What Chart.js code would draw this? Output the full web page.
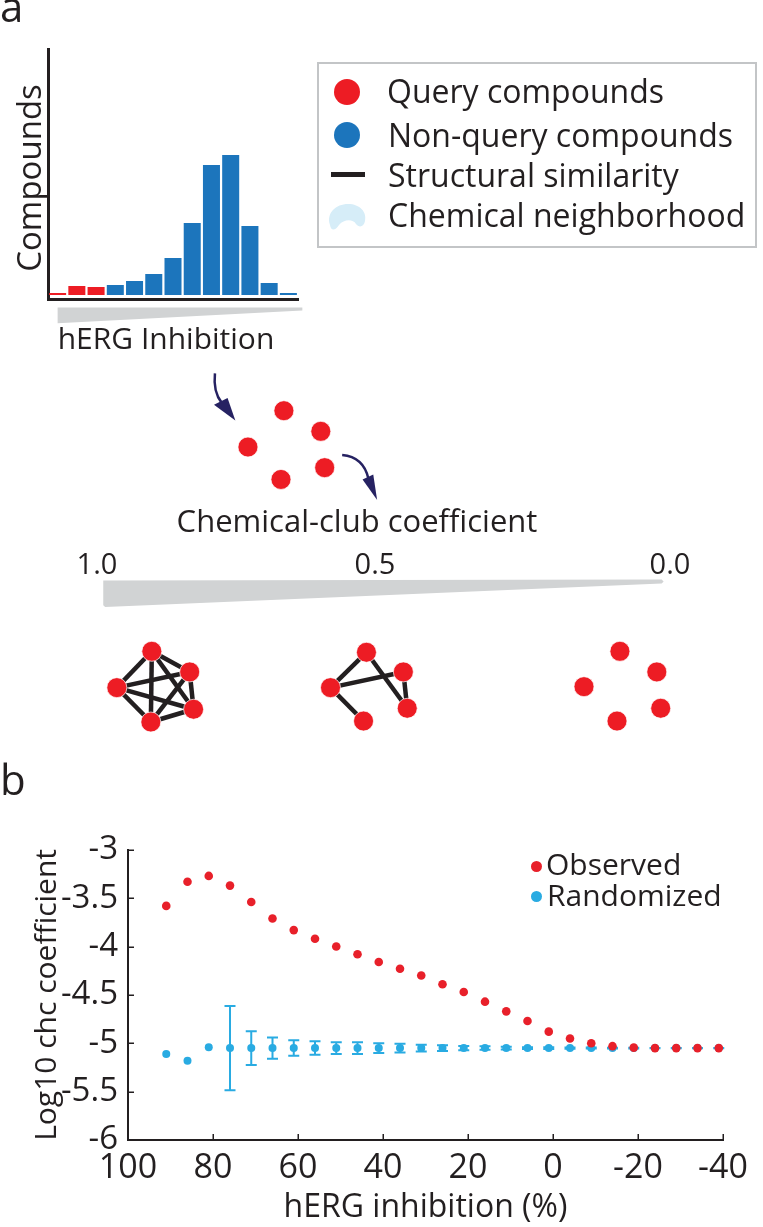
<!DOCTYPE html>
<html>
<head>
<meta charset="utf-8">
<script src="https://cdn.jsdelivr.net/npm/chart.js@4.4.0/dist/chart.umd.min.js"></script>
<style>
  body { margin: 0; background: #fff; }
  #page { position: relative; width: 763px; height: 1227px; overflow: hidden; font-family: "Open Sans", sans-serif; color: #231f20; }
  canvas { position: absolute; }
  .t { position: absolute; line-height: 1; white-space: nowrap; }
  .c { transform: translateX(-50%); }
  .dot { position: absolute; border-radius: 50%; }
</style>
</head>
<body>
<div id="page">
  <canvas id="diagram" style="left:0;top:0" width="763" height="1227"></canvas>
  <canvas id="hist" style="left:0;top:40px" width="310" height="270"></canvas>
  <canvas id="chc" style="left:0;top:820px" width="763" height="407"></canvas>

  <div class="t" style="left:0;top:-15px;font-size:42px">a</div>
  <div class="t" style="left:0;top:758px;font-size:42px">b</div>

  <!-- panel a: histogram labels -->
  <div class="t" style="left:28px;top:178px;font-size:33px;transform:translate(-50%,-50%) rotate(-90deg)">Compounds</div>
  <div class="t c" style="left:166px;top:323px;font-size:30px">hERG Inhibition</div>

  <!-- panel a: legend box -->
  <div style="position:absolute;left:317px;top:62px;width:436px;height:182px;border:2.5px solid #c3c5c7"></div>
  <div class="dot" style="left:334px;top:79px;width:26px;height:26px;background:#ed1c24"></div>
  <div class="dot" style="left:334px;top:122px;width:26px;height:26px;background:#1c75bc"></div>
  <div style="position:absolute;left:331px;top:172px;width:34px;height:5px;background:#231f20"></div>
  <svg style="position:absolute;left:326px;top:201px" width="42" height="32" viewBox="0 0 42 32">
    <path d="M4,24 C0,12 10,3 22,3 C34,3 41,11 39,20 C38,26 33,27 30,23 C27,18 18,18 13,24 C9,30 5,30 4,24 Z" fill="#d6edf8"/>
  </svg>
  <div class="t" style="left:387px;top:75px;font-size:32px">Query compounds</div>
  <div class="t" style="left:388px;top:119px;font-size:32px">Non-query compounds</div>
  <div class="t" style="left:388px;top:159px;font-size:32px">Structural similarity</div>
  <div class="t" style="left:388px;top:199px;font-size:32px">Chemical neighborhood</div>

  <!-- panel a: coefficient scale -->
  <div class="t c" style="left:357px;top:505px;font-size:31px">Chemical-club coefficient</div>
  <div id="coefLabels"></div>

  <!-- panel b: legend -->
  <div class="dot" style="left:531px;top:861px;width:11px;height:11px;background:#e8202a"></div>
  <div class="dot" style="left:531px;top:891px;width:11px;height:11px;background:#29abe2"></div>
  <div class="t" style="left:546px;top:849px;font-size:30px">Observed</div>
  <div class="t" style="left:547px;top:880px;font-size:30px">Randomized</div>
</div>

<script>
// ---- panel a: histogram of hERG inhibition (13 bins, first 3 are query bins)
const histBins = ['1', '2', '3', '4', '5', '6', '7', '8', '9', '10', '11', '12', '13'];
const histCounts = [2, 9, 8, 10, 14, 21, 37, 72, 130, 140, 69, 12, 2];
const queryBinCount = 3;

// ---- panel a: compound layouts (figure units)
const seedX = [281, 319, 244, 323, 278];
const seedY = [407, 428, 444, 465, 477];
const club1X = [145, 184, 109, 188, 144];
const club1Y = [652, 673, 689, 711, 724];
const club2X = [366, 404, 329, 408, 363];
const club2Y = [653, 673, 689, 710, 723];
const club3X = [627, 665, 590, 669, 624];
const club3Y = [652, 673, 688, 710, 723];
const club1Edges = [[0, 1], [0, 2], [0, 3], [0, 4], [1, 2], [1, 3], [1, 4], [2, 3], [2, 4], [3, 4]];
const club2Edges = [[0, 2], [0, 3], [2, 1], [1, 3], [2, 4]];
const coefLabels = ['1.0', '0.5', '0.0'];

// ---- panel b: chc coefficient vs hERG inhibition
const inhibition = [91, 86, 81, 76, 71, 66, 61, 56, 51, 46, 41, 36, 31, 26, 21, 16, 11, 6, 1, -4, -9, -14, -19, -24, -29, -34, -39];
const observed = [-3.58, -3.33, -3.27, -3.37, -3.54, -3.71, -3.83, -3.92, -4.0, -4.08, -4.16, -4.23, -4.3, -4.39, -4.47, -4.57, -4.67, -4.77, -4.88, -4.95, -5.0, -5.03, -5.045, -5.05, -5.05, -5.05, -5.05];
const randomized = [-5.11, -5.18, -5.04, -5.05, -5.05, -5.05, -5.05, -5.05, -5.05, -5.05, -5.05, -5.05, -5.05, -5.05, -5.05, -5.05, -5.05, -5.05, -5.05, -5.05, -5.05, -5.05, -5.05, -5.05, -5.05, -5.05, -5.05];
const randomizedErr = [null, null, null, 0.435, 0.175, 0.11, 0.08, 0.07, 0.06, 0.06, 0.05, 0.045, 0.035, 0.03, 0.022, 0.018, 0.014, 0.01, 0.008, 0.006, 0.005, 0.004, 0.003, 0.002, 0.002, 0.002, 0.002];
const xTicks = [100, 80, 60, 40, 20, 0, -20, -40];
const yTicks = [-3, -3.5, -4, -4.5, -5, -5.5, -6];

const RED = '#ed1c24';
const BLUE = '#1c75bc';
const INK = '#231f20';
const NAVY = '#262262';

Chart.defaults.font.family = "'Open Sans', sans-serif";
Chart.defaults.color = INK;

// coefficient tick labels along the grey wedge
const coefPos = [97, 375, 670];
coefLabels.forEach((s, i) => {
  const d = document.createElement('div');
  d.className = 't c';
  d.style.left = coefPos[i] + 'px';
  d.style.top = '548px';
  d.style.fontSize = '29px';
  d.textContent = s;
  document.getElementById('coefLabels').appendChild(d);
});

// ---------- histogram
new Chart(document.getElementById('hist'), {
  type: 'bar',
  data: {
    labels: histBins,
    datasets: [{
      data: histCounts,
      backgroundColor: histCounts.map((v, i) => i < queryBinCount ? RED : BLUE),
      borderWidth: 0,
      categoryPercentage: 1,
      barPercentage: 0.885
    }]
  },
  options: {
    responsive: false,
    animation: false,
    events: [],
    layout: { padding: { left: 48, top: 9, right: 12, bottom: 11 } },
    plugins: { legend: { display: false }, tooltip: { enabled: false } },
    scales: {
      x: { grid: { display: false }, ticks: { display: false }, border: { color: INK, width: 3 }, afterFit: s => { s.height = 0; } },
      y: { min: -4, max: 246, grid: { display: false }, ticks: { display: false }, border: { color: INK, width: 3 }, afterFit: s => { s.width = 0; } }
    }
  }
});

// ---------- diagram (wedges, arrows, compound clubs)
const nodeSet = (xs, ys) => ({
  data: xs.map((x, i) => ({ x: x, y: ys[i] })),
  pointRadius: 10,
  pointBackgroundColor: RED,
  pointBorderColor: 'rgba(255,255,255,0.7)',
  pointBorderWidth: 1,
  order: 1
});
const edgeSets = (xs, ys, edges) => edges.map(e => ({
  data: [{ x: xs[e[0]], y: ys[e[0]] }, { x: xs[e[1]], y: ys[e[1]] }],
  showLine: true,
  borderColor: INK,
  borderWidth: 4.5,
  pointRadius: 0,
  order: 2
}));

const sketchPlugin = {
  id: 'sketch',
  beforeDatasetsDraw(chart) {
    const ctx = chart.ctx, X = v => chart.scales.x.getPixelForValue(v), Y = v => chart.scales.y.getPixelForValue(v);
    const poly = pts => {
      ctx.beginPath();
      pts.forEach((p, i) => i ? ctx.lineTo(X(p[0]), Y(p[1])) : ctx.moveTo(X(p[0]), Y(p[1])));
      ctx.closePath();
      ctx.fill();
    };
    ctx.save();
    ctx.fillStyle = '#d1d3d4';
    poly([[48, 302], [300, 302], [300, 305], [48, 318]]);
    poly([[95, 580], [670, 579], [672, 581], [670, 583], [97, 607], [95, 605]]);
    ctx.restore();
  },
  afterDatasetsDraw(chart) {
    const ctx = chart.ctx, X = v => chart.scales.x.getPixelForValue(v), Y = v => chart.scales.y.getPixelForValue(v);
    const arrow = (p0, c, p1, head) => {
      ctx.beginPath();
      ctx.moveTo(X(p0[0]), Y(p0[1]));
      ctx.quadraticCurveTo(X(c[0]), Y(c[1]), X(p1[0]), Y(p1[1]));
      ctx.stroke();
      ctx.beginPath();
      head.forEach((p, i) => i ? ctx.lineTo(X(p[0]), Y(p[1])) : ctx.moveTo(X(p[0]), Y(p[1])));
      ctx.closePath();
      ctx.fill();
    };
    ctx.save();
    ctx.strokeStyle = NAVY;
    ctx.fillStyle = NAVY;
    ctx.lineWidth = 2.5;
    arrow([210, 369], [208, 388], [217, 399], [[231, 417], [209, 401], [223, 394]]);
    arrow([341, 452], [363, 454], [368, 476], [[377, 498], [362, 477], [373, 472]]);
    ctx.restore();
  }
};

new Chart(document.getElementById('diagram'), {
  type: 'scatter',
  data: {
    datasets: [
      ...edgeSets(club1X, club1Y, club1Edges),
      ...edgeSets(club2X, club2Y, club2Edges),
      nodeSet(seedX, seedY),
      nodeSet(club1X, club1Y),
      nodeSet(club2X, club2Y),
      nodeSet(club3X, club3Y)
    ]
  },
  options: {
    responsive: false,
    animation: false,
    events: [],
    layout: { padding: 0 },
    plugins: { legend: { display: false }, tooltip: { enabled: false } },
    scales: {
      x: { display: false, min: 0, max: 763 },
      y: { display: false, min: 0, max: 1227, reverse: true }
    }
  },
  plugins: [sketchPlugin]
});

// ---------- panel b
const errorBars = {
  id: 'errorBars',
  beforeDatasetsDraw(chart) {
    const ctx = chart.ctx, xs = chart.scales.x, ys = chart.scales.y;
    ctx.save();
    ctx.strokeStyle = '#29abe2';
    ctx.lineWidth = 2;
    randomizedErr.forEach((e, i) => {
      if (e === null) return;
      const x = xs.getPixelForValue(inhibition[i]);
      const top = ys.getPixelForValue(randomized[i] + e);
      const bot = ys.getPixelForValue(randomized[i] - e);
      ctx.beginPath();
      ctx.moveTo(x, top); ctx.lineTo(x, bot);
      ctx.moveTo(x - 5.5, top); ctx.lineTo(x + 5.5, top);
      ctx.moveTo(x - 5.5, bot); ctx.lineTo(x + 5.5, bot);
      ctx.stroke();
    });
    ctx.restore();
  },
  afterDraw(chart) {
    // MATLAB-style inward tick marks
    const ctx = chart.ctx, xs = chart.scales.x, ys = chart.scales.y, a = chart.chartArea;
    ctx.save();
    ctx.strokeStyle = INK;
    ctx.lineWidth = 1.5;
    ctx.beginPath();
    xs.ticks.forEach(t => { const x = Math.round(xs.getPixelForValue(t.value)) + 0.25; ctx.moveTo(x, a.bottom); ctx.lineTo(x, a.bottom - 6); });
    ys.ticks.forEach(t => { const y = Math.round(ys.getPixelForValue(t.value)) + 0.25; ctx.moveTo(a.left, y); ctx.lineTo(a.left + 6, y); });
    ctx.stroke();
    ctx.restore();
  }
};

new Chart(document.getElementById('chc'), {
  type: 'scatter',
  data: {
    datasets: [
      { label: 'Observed', data: inhibition.map((x, i) => ({ x: x, y: observed[i] })), pointRadius: 4.3, pointBackgroundColor: '#e8202a', pointBorderWidth: 0, order: 0 },
      { label: 'Randomized', data: inhibition.map((x, i) => ({ x: x, y: randomized[i] })), pointRadius: 4, pointBackgroundColor: '#29abe2', pointBorderWidth: 0, order: 1 }
    ]
  },
  options: {
    responsive: false,
    animation: false,
    events: [],
    layout: { padding: { top: 27, right: 40, left: 0, bottom: 0 } },
    plugins: { legend: { display: false }, tooltip: { enabled: false } },
    scales: {
      x: {
        type: 'linear', reverse: true, min: -40, max: 100,
        afterBuildTicks: s => { s.ticks = xTicks.map(v => ({ value: v })); },
        afterFit: s => { s.height = 87; },
        grid: { display: false, drawTicks: false },
        border: { color: INK, width: 2 },
        ticks: { autoSkip: false, maxRotation: 0, padding: 8, font: { size: 34 }, color: INK },
        title: { display: true, text: 'hERG inhibition (%)', font: { size: 32 }, color: INK, padding: { top: 0, bottom: 0 } }
      },
      y: {
        min: -6, max: -3,
        afterBuildTicks: s => { s.ticks = yTicks.map(v => ({ value: v })); },
        afterFit: s => { s.width = 128; },
        grid: { display: false, drawTicks: false },
        border: { color: INK, width: 2 },
        ticks: { autoSkip: false, padding: 10, font: { size: 33 }, color: INK, callback: v => String(+v.toFixed(1)) },
        title: { display: true, text: 'Log10 chc coefficient', font: { size: 30 }, color: INK, padding: { top: 29, bottom: 0 } }
      }
    }
  },
  plugins: [errorBars]
});
</script>
</body>
</html>
